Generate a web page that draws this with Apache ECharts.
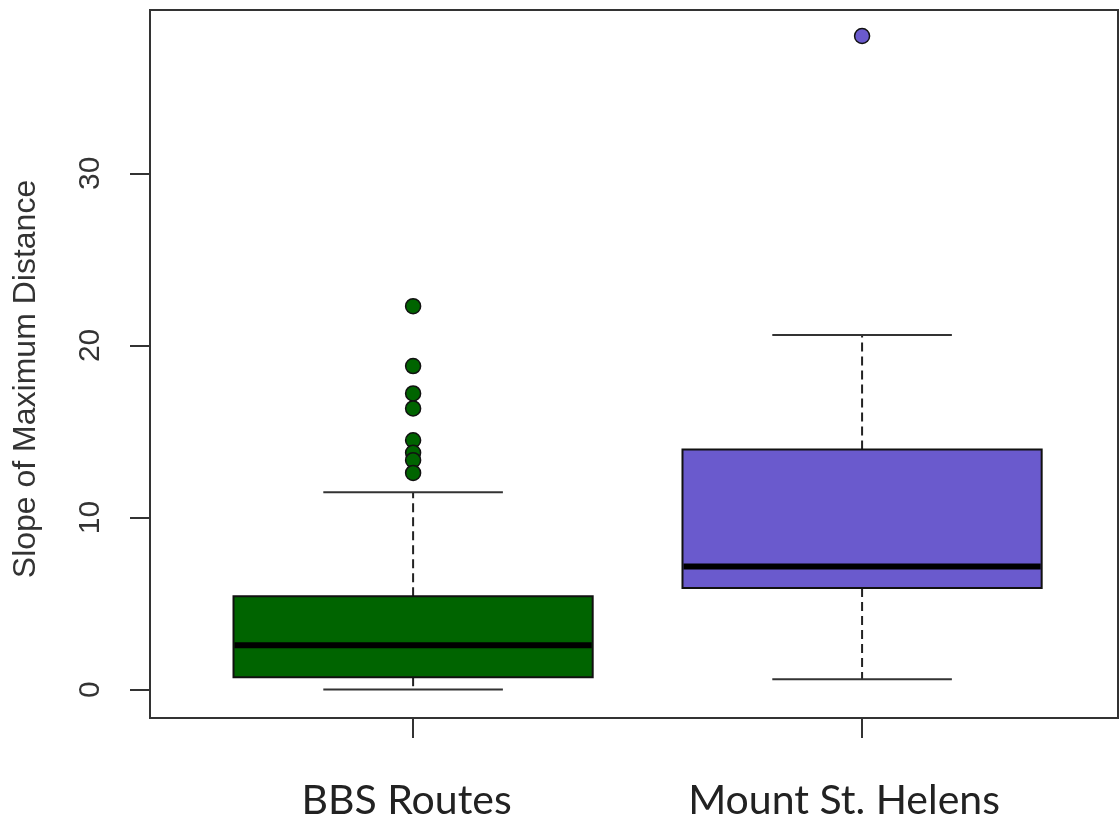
<!DOCTYPE html>
<html>
<head>
<meta charset="utf-8">
<script src="https://cdn.jsdelivr.net/npm/echarts@6/dist/echarts.min.js"></script>
<style>
  html, body { margin: 0; padding: 0; background: #fff; }
  #chart { width: 1119px; height: 816px; }
</style>
</head>
<body>
<div id="chart"></div>
<script>
// Group labels and their positions on the x scale
const categories = ['BBS Routes', 'Mount St. Helens'];
const positions = [1, 2];

// Five-number summaries per group
const whiskerLow    = [0.0, 0.6];
const lowerQuartile = [0.72, 5.91];
const medians       = [2.58, 7.15];
const upperQuartile = [5.42, 13.95];
const whiskerHigh   = [11.47, 20.6];

// Points beyond the whiskers
const outliersBBS = [22.28, 18.8, 17.21, 16.34, 14.49, 13.76, 13.33, 12.59];
const outliersMSH = [37.98];

// Y axis ticks
const yTicks = [0, 10, 20, 30];

const fills = ['#006400', '#6a5acd'];

const boxData = positions.map((p, i) => [
  p, whiskerLow[i], lowerQuartile[i], medians[i], upperQuartile[i], whiskerHigh[i]
]);

function renderBox(params, api) {
  const x = api.value(0);
  const pLo = api.coord([x, api.value(1)]);
  const pQ1 = api.coord([x, api.value(2)]);
  const pMd = api.coord([x, api.value(3)]);
  const pQ3 = api.coord([x, api.value(4)]);
  const pHi = api.coord([x, api.value(5)]);
  const half = api.size([0.4, 0])[0];
  const cap = half / 2;
  const cx = pLo[0];
  const dash = { stroke: '#222', lineWidth: 2, lineDash: [9, 5] };
  const solid = { stroke: '#333', lineWidth: 2 };
  return {
    type: 'group',
    children: [
      { type: 'line', shape: { x1: cx, y1: pQ3[1], x2: cx, y2: pHi[1] }, style: dash },
      { type: 'line', shape: { x1: cx, y1: pQ1[1], x2: cx, y2: pLo[1] }, style: dash },
      { type: 'line', shape: { x1: cx - cap, y1: pHi[1], x2: cx + cap, y2: pHi[1] }, style: solid },
      { type: 'line', shape: { x1: cx - cap, y1: pLo[1], x2: cx + cap, y2: pLo[1] }, style: solid },
      {
        type: 'rect',
        shape: { x: cx - half, y: pQ3[1], width: 2 * half, height: pQ1[1] - pQ3[1] },
        style: { fill: fills[params.dataIndex], stroke: '#111', lineWidth: 2 }
      },
      {
        type: 'line',
        shape: { x1: cx - half + 1, y1: pMd[1], x2: cx + half - 1, y2: pMd[1] },
        style: { stroke: '#000', lineWidth: 6 }
      }
    ]
  };
}

const chart = echarts.init(document.getElementById('chart'));

chart.setOption({
  animation: false,
  backgroundColor: '#fff',
  grid: {
    left: 150, right: 1, top: 10, bottom: 98,
    show: true, borderColor: '#333', borderWidth: 2,
    containLabel: false, outerBoundsMode: 'none'
  },
  xAxis: {
    type: 'value',
    min: 0.414,
    max: 2.57,
    axisLine: { show: false, onZero: false },
    splitLine: { show: false },
    axisTick: {
      show: true, inside: false, customValues: positions, length: 20,
      lineStyle: { color: '#333', width: 2 }
    },
    axisLabel: {
      customValues: positions,
      margin: 62,
      formatter: (v) => {
        const i = positions.indexOf(v);
        return '{c' + i + '|' + categories[i] + '}';
      },
      rich: {
        c0: { fontFamily: 'Lato', fontSize: 41, color: '#222', padding: [0, 13, 0, 0] },
        c1: { fontFamily: 'Lato', fontSize: 41, color: '#222', padding: [0, 36, 0, 0] }
      }
    }
  },
  yAxis: {
    type: 'value',
    min: -1.65,
    max: 39.49,
    axisLine: { show: false, onZero: false },
    splitLine: { show: false },
    axisTick: {
      show: true, inside: false, customValues: yTicks, length: 20,
      lineStyle: { color: '#333', width: 2 }
    },
    axisLabel: {
      customValues: yTicks,
      rotate: 90,
      margin: 44,
      fontFamily: 'Liberation Sans',
      fontSize: 30,
      color: '#333'
    },
    name: 'Slope of Maximum Distance',
    nameLocation: 'middle',
    nameRotate: 90,
    nameGap: 108,
    nameTextStyle: {
      fontFamily: 'Liberation Sans',
      fontSize: 32,
      color: '#333',
      padding: [0, 30, 0, 0]
    }
  },
  series: [
    {
      type: 'custom',
      renderItem: renderBox,
      data: boxData,
      encode: { x: 0, y: [1, 2, 3, 4, 5] },
      z: 2
    },
    {
      type: 'scatter',
      symbol: 'circle',
      symbolSize: 15,
      data: outliersBBS.map(v => [positions[0], v]),
      itemStyle: { color: fills[0], borderColor: '#111', borderWidth: 1.5, opacity: 1 },
      z: 3
    },
    {
      type: 'scatter',
      symbol: 'circle',
      symbolSize: 15,
      data: outliersMSH.map(v => [positions[1], v]),
      itemStyle: { color: fills[1], borderColor: '#111', borderWidth: 1.5, opacity: 1 },
      z: 3
    }
  ]
});
</script>
</body>
</html>
